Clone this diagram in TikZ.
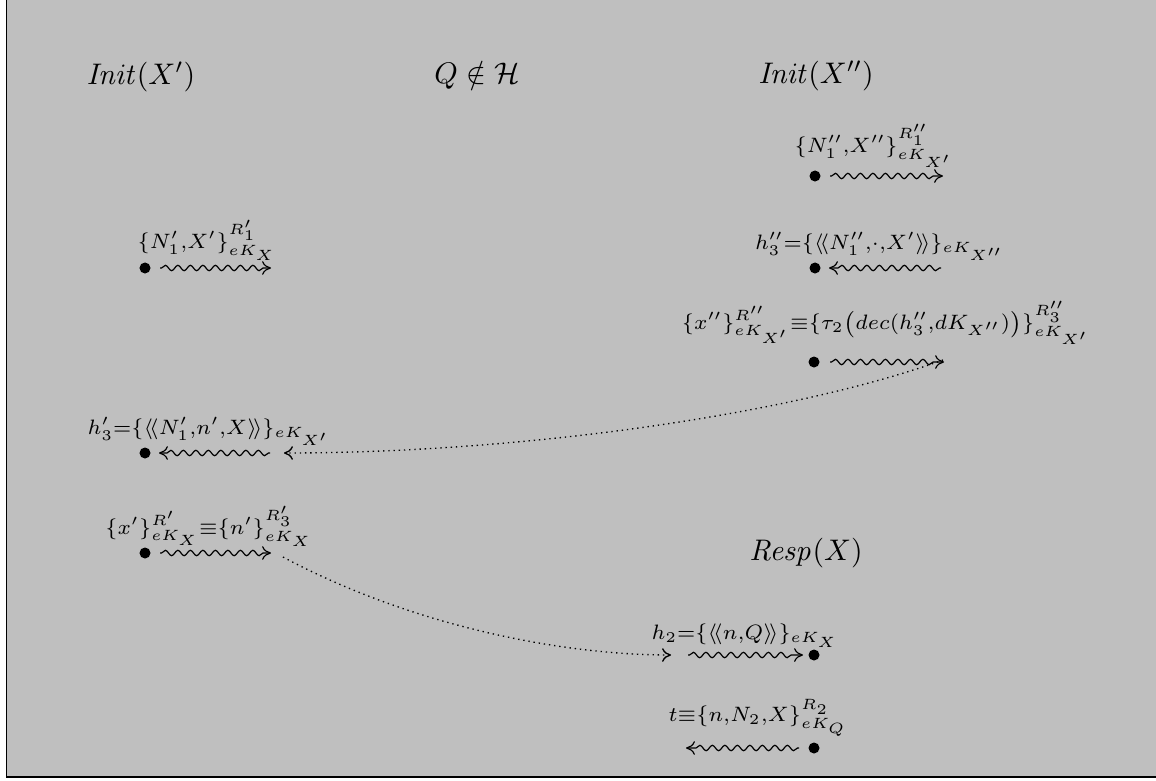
\documentclass[tikz,border=0pt]{standalone}
\usepackage{amsmath,amssymb}
\usetikzlibrary{decorations.pathmorphing,arrows.meta}
\begin{document}
\begin{tikzpicture}[x=0.336pt,y=-0.336pt,
  head/.style={inner sep=0pt,font=\normalsize},
  lab/.style={inner sep=0pt,anchor=south,font=\fontsize{7.4}{9}\selectfont},
  blob/.style={circle,fill=black,inner sep=0pt,minimum size=3.7pt},
  tipx/.style={-{To[length=3pt,width=4.6pt]}},
  wave/.style={decorate,decoration={snake,amplitude=0.9pt,segment length=4.2pt,pre length=0.5pt,post length=2pt},line width=0.4pt},
  dotline/.style={line width=0.45pt,dash pattern=on 0.45pt off 1.3pt}]
% page and frame
\useasboundingbox (0,0) rectangle (1156,780);
\fill[white] (0,0) rectangle (1156,780);
\fill[gray!50] (6,0) rectangle (1156,777);
\draw[line width=0.5pt] (6.5,0) -- (6.5,777) -- (1156,777);

% column headings
\node[head] (hInitA) at (141,77) {$\mathit{Init}(X')$};
\node[head] (hQ)     at (477,75) {$Q\notin\mathcal{H}$};
\node[head] (hInitB) at (816,76) {$\mathit{Init}(X'')$};
\node[head] (hResp)  at (806,553) {$\mathit{Resp}(X)$};

% left column
\node[lab] (lA1) at (207,261) {$\{N'_1{,}X'\}^{R'_1}_{eK_X}$};
\node[blob] (bA1) at (145,268) {};
\coordinate (wA1s) at (160,268); \coordinate (wA1e) at (271,268);
\draw[wave,tipx] (wA1s) -- (wA1e);

\node[lab] (lA2) at (209,446) {$h'_3{=}\{\langle\!\langle N'_1{,}n'{,}X\rangle\!\rangle\}_{eK_{X'}}$};
\node[blob] (bA2) at (145,453) {};
\coordinate (wA2s) at (270,453); \coordinate (wA2e) at (159,453);
\draw[wave,tipx] (wA2s) -- (wA2e);

\node[lab] (lA3) at (209,547) {$\{x'\}^{R'}_{eK_X}{\equiv}\{n'\}^{R'_3}_{eK_X}$};
\node[blob] (bA3) at (145,553) {};
\coordinate (wA3s) at (160,553); \coordinate (wA3e) at (271,553);
\draw[wave,tipx] (wA3s) -- (wA3e);

% right column
\node[lab] (lB1) at (874,168) {$\{N''_1{,}X''\}^{R''_1}_{eK_{X'}}$};
\node[blob] (bB1) at (815,176) {};
\coordinate (wB1s) at (830,176); \coordinate (wB1e) at (943,176);
\draw[wave,tipx] (wB1s) -- (wB1e);

\node[lab] (lB2) at (880,261) {$h''_3{=}\{\langle\!\langle N''_1{,}{\cdot}{,}X'\rangle\!\rangle\}_{eK_{X''}}$};
\node[blob] (bB2) at (815,268) {};
\coordinate (wB2s) at (941,268); \coordinate (wB2e) at (829,268);
\draw[wave,tipx] (wB2s) -- (wB2e);

\node[lab] (lB3) at (886,345) {$\{x''\}^{R''}_{eK_{X'}}{\equiv}\{\tau_2\bigl(dec(h''_3{,}dK_{X''})\bigr)\}^{R''_3}_{eK_{X'}}$};
\node[blob] (bB3) at (814,362) {};
\coordinate (wB3s) at (830,362); \coordinate (wB3e) at (944,362);
\draw[wave,tipx] (wB3s) -- (wB3e);

% responder column
\node[lab] (lC1) at (745,648) {$h_2{=}\{\langle\!\langle n{,}Q\rangle\!\rangle\}_{eK_X}$};
\node[blob] (bC1) at (814,655) {};
\coordinate (wC1s) at (688,655); \coordinate (wC1e) at (803,655);
\draw[wave,tipx] (wC1s) -- (wC1e);

\node[lab] (lC2) at (758,737) {$t{\equiv}\{n{,}N_2{,}X\}^{R_2}_{eK_Q}$};
\node[blob] (bC2) at (814,748) {};
\coordinate (wC2s) at (799,748); \coordinate (wC2e) at (686,748);
\draw[wave,tipx] (wC2s) -- (wC2e);

% cross-run links
\coordinate (dA) at (943,360); \coordinate (dAe) at (284,453);
\draw[dotline,tipx] (dA) .. controls (790,415) and (520,453) .. (dAe);
\coordinate (dB) at (283,557); \coordinate (dBe) at (671,655);
\draw[dotline,tipx] (dB) .. controls (410,625) and (560,655) .. (dBe);
\end{tikzpicture}
\end{document}
